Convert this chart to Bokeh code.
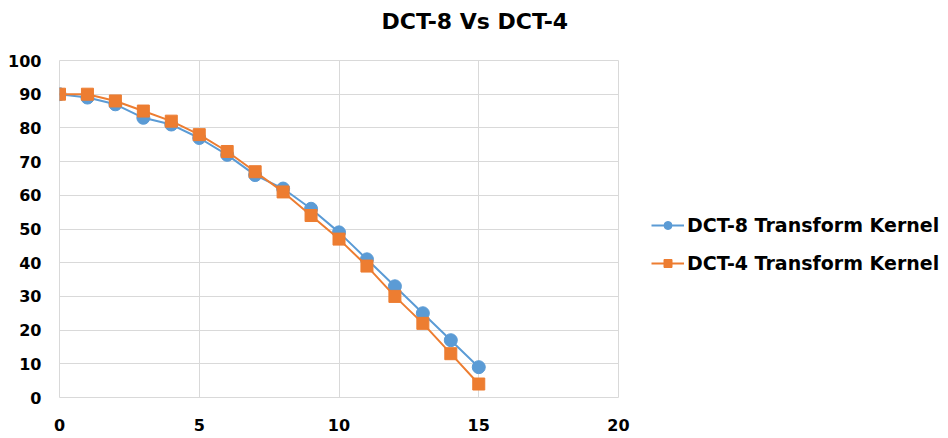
from bokeh.plotting import figure
from bokeh.models import Range1d, Legend, LegendItem, FixedTicker, Title
from bokeh.embed import file_html
from bokeh.resources import INLINE

# Coefficient index and angle values for each transform kernel
index = list(range(16))
dct8_values = [90, 89, 87, 83, 81, 77, 72, 66, 62, 56, 49, 41, 33, 25, 17, 9]
dct4_values = [90, 90, 88, 85, 82, 78, 73, 67, 61, 54, 47, 39, 30, 22, 13, 4]
x_ticks = [0, 5, 10, 15, 20]
y_ticks = list(range(0, 101, 10))

FONT = "DejaVu Sans"
BLUE = "#5B9BD5"
ORANGE = "#ED7D31"
GRID = "#D9D9D9"

p = figure(frame_width=559, frame_height=337, output_backend="svg",
           toolbar_location=None,
           x_range=Range1d(0, 20), y_range=Range1d(0, 100),
           min_border_left=59, min_border_right=0,
           min_border_top=60, min_border_bottom=41)

p.title.text = "DCT-8 Vs DCT-4"
p.title.text_font = FONT
p.title.text_font_size = "22px"
p.title.text_font_style = "bold"
p.title.text_color = "#000000"
p.title.align = "left"
p.title.offset = 322
p.title.standoff = 0

# blank strip between the heading and the plotting area
spacer = Title(text=" ", text_font_size="22px", standoff=0)
p.add_layout(spacer, "above")

p.outline_line_color = GRID
p.background_fill_color = "white"
p.border_fill_color = "white"

for ax in (p.xaxis, p.yaxis):
    ax.axis_line_color = None
    ax.major_tick_line_color = None
    ax.minor_tick_line_color = None
    ax.major_label_text_font = FONT
    ax.major_label_text_font_size = "16px"
    ax.major_label_text_font_style = "bold"
    ax.major_label_text_color = "#000000"
    ax.major_tick_out = 0
    ax.major_tick_in = 0

p.xaxis.ticker = FixedTicker(ticks=x_ticks)
p.yaxis.ticker = FixedTicker(ticks=y_ticks)
p.xaxis.major_label_standoff = 21
p.yaxis.major_label_standoff = 18

p.xgrid.ticker = FixedTicker(ticks=x_ticks)
p.ygrid.ticker = FixedTicker(ticks=y_ticks)
p.grid.grid_line_color = GRID
p.grid.grid_line_width = 1

l8 = p.line(index, dct8_values, line_color=BLUE, line_width=2)
m8 = p.scatter(index, dct8_values, marker="circle", size=13,
               fill_color=BLUE, line_color=BLUE)
l4 = p.line(index, dct4_values, line_color=ORANGE, line_width=2)
m4 = p.scatter(index, dct4_values, marker="square", size=12,
               fill_color=ORANGE, line_color=ORANGE)

legend = Legend(items=[
    LegendItem(label="DCT-8 Transform Kernel", renderers=[l8, m8]),
    LegendItem(label="DCT-4 Transform Kernel", renderers=[l4, m4]),
], location=(33, 123))
legend.label_text_font = FONT
legend.label_text_font_size = "19px"
legend.label_text_font_style = "bold"
legend.label_text_color = "#000000"
legend.glyph_width = 33
legend.glyph_height = 20
legend.label_standoff = 3
legend.spacing = 16
legend.padding = 10
legend.margin = 0
legend.border_line_color = None
legend.background_fill_alpha = 0
p.add_layout(legend, "right")

open("out.html", "w").write(file_html(p, INLINE))
